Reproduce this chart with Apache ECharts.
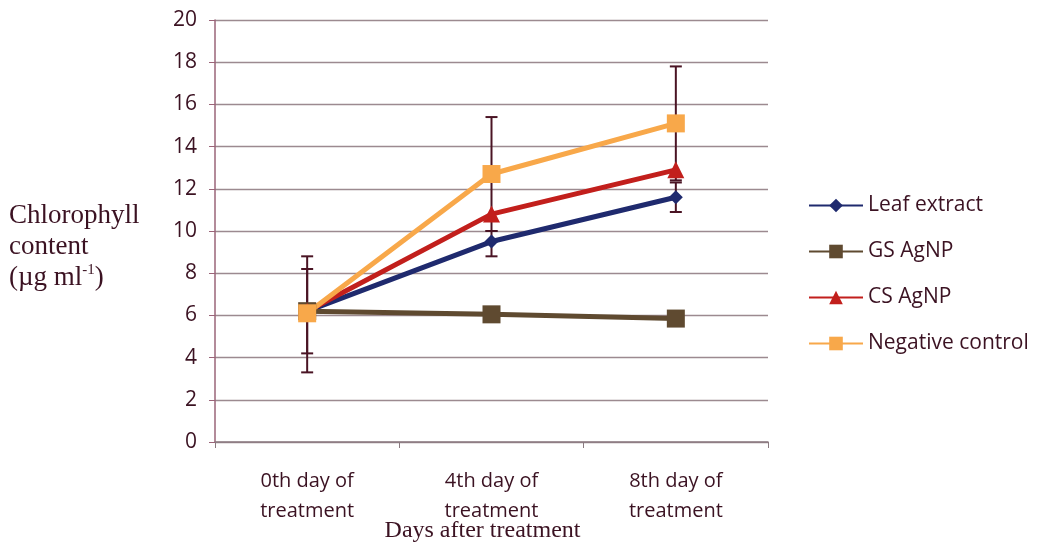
<!DOCTYPE html>
<html>
<head>
<meta charset="utf-8">
<script src="https://cdn.jsdelivr.net/npm/echarts@6/dist/echarts.min.js"></script>
<style>
  html, body { margin: 0; padding: 0; background: #fff; }
  #main { width: 1040px; height: 547px; }
</style>
</head>
<body>
<div id="main"></div>
<script>
    // categories and values
    var days = ['0th day of\ntreatment', '4th day of\ntreatment', '8th day of\ntreatment'];
    var seriesNames = ['Leaf extract', 'GS AgNP', 'CS AgNP', 'Negative control'];
    var leafExtract = [6.2, 9.5, 11.6];
    var gsAgNP = [6.2, 6.05, 5.85];
    var csAgNP = [6.2, 10.8, 12.9];
    var negControl = [6.1, 12.7, 15.1];
    // error bars: [category index, low, high]
    var leafErr = [[0, 4.2, 8.2], [1, 8.8, 10.0], [2, 10.9, 12.3]];
    var negErr = [[0, 3.3, 8.8], [1, 10.0, 15.4], [2, 12.4, 17.8]];
    var yTicks = { min: 0, max: 20, interval: 2 };

    var txtColor = '#3b1222';
    var colors = ['#1f2a6e', '#5f4a30', '#c21f1c', '#f8a84a'];

    function errorBar(params, api) {
        var x = api.value(0);
        var lo = api.coord([x, api.value(1)]);
        var hi = api.coord([x, api.value(2)]);
        var w = 6;
        var st = { stroke: '#4a1424', lineWidth: 2 };
        return {
            type: 'group',
            children: [
                { type: 'line', shape: { x1: hi[0], y1: hi[1], x2: lo[0], y2: lo[1] }, style: st },
                { type: 'line', shape: { x1: hi[0] - w, y1: hi[1], x2: hi[0] + w, y2: hi[1] }, style: st },
                { type: 'line', shape: { x1: lo[0] - w, y1: lo[1], x2: lo[0] + w, y2: lo[1] }, style: st }
            ]
        };
    }

    function lineSeries(name, data, color, symbol, size) {
        return {
            name: name,
            type: 'line',
            data: data,
            symbol: symbol,
            symbolSize: size,
            z: 3,
            lineStyle: { color: color, width: 5 },
            itemStyle: { color: color },
            emphasis: { disabled: true }
        };
    }

    var option = {
        animation: false,
        backgroundColor: '#fff',
        grid: { left: 215, right: 272, top: 20, bottom: 105, outerBoundsMode: 'none', containLabel: false },
        legend: {
            orient: 'vertical',
            left: 803,
            top: 190,
            itemWidth: 54,
            itemHeight: 17,
            itemGap: 25,
            data: seriesNames,
            textStyle: { color: txtColor, fontSize: 21, fontFamily: 'Open Sans' }
        },
        xAxis: {
            type: 'category',
            data: days,
            boundaryGap: true,
            name: 'Days after treatment',
            nameLocation: 'middle',
            nameGap: 77,
            nameMoveOverlap: false,
            nameTextStyle: { color: txtColor, fontSize: 24, fontFamily: 'Liberation Serif', padding: [0, 18, 0, 0] },
            axisLine: { lineStyle: { color: '#8a7a80', width: 1.5 } },
            axisTick: { show: true, length: 6, lineStyle: { color: '#8a7a80' } },
            axisLabel: { color: txtColor, fontSize: 20, fontFamily: 'Open Sans', margin: 24, lineHeight: 30 }
        },
        yAxis: {
            type: 'value',
            min: yTicks.min,
            max: yTicks.max,
            interval: yTicks.interval,
            name: '{t|Chlorophyll}\n{t|content}\n{t|(µg ml}{s|-1}{t|)}',
            nameLocation: 'middle',
            nameRotate: 0,
            nameGap: 206,
            nameMoveOverlap: false,
            nameTextStyle: {
                align: 'left',
                padding: [32, 0, 0, 0],
                rich: {
                    t: { color: txtColor, fontSize: 27, fontFamily: 'Liberation Serif', lineHeight: 31 },
                    s: { color: txtColor, fontSize: 15, fontFamily: 'Liberation Serif', verticalAlign: 'top', lineHeight: 31, padding: [0, 0, 12, 0] }
                }
            },
            axisLine: { show: true, lineStyle: { color: '#9a6478', width: 1.5 } },
            axisTick: { show: true, length: 6, lineStyle: { color: '#9a6478' } },
            axisLabel: { color: txtColor, fontSize: 21, fontFamily: 'Open Sans', margin: 18 },
            splitLine: { lineStyle: { color: '#9c8a90', width: 1.3 } }
        },
        series: [
            lineSeries(seriesNames[0], leafExtract, colors[0], 'diamond', 14),
            lineSeries(seriesNames[1], gsAgNP, colors[1], 'rect', 18),
            lineSeries(seriesNames[2], csAgNP, colors[2], 'triangle', 17),
            lineSeries(seriesNames[3], negControl, colors[3], 'rect', 18),
            { type: 'custom', renderItem: errorBar, data: leafErr, z: 2, silent: true },
            { type: 'custom', renderItem: errorBar, data: negErr, z: 2, silent: true }
        ]
    };

    var myChart = echarts.init(document.getElementById('main'));
    myChart.setOption(option);
</script>
</body>
</html>
